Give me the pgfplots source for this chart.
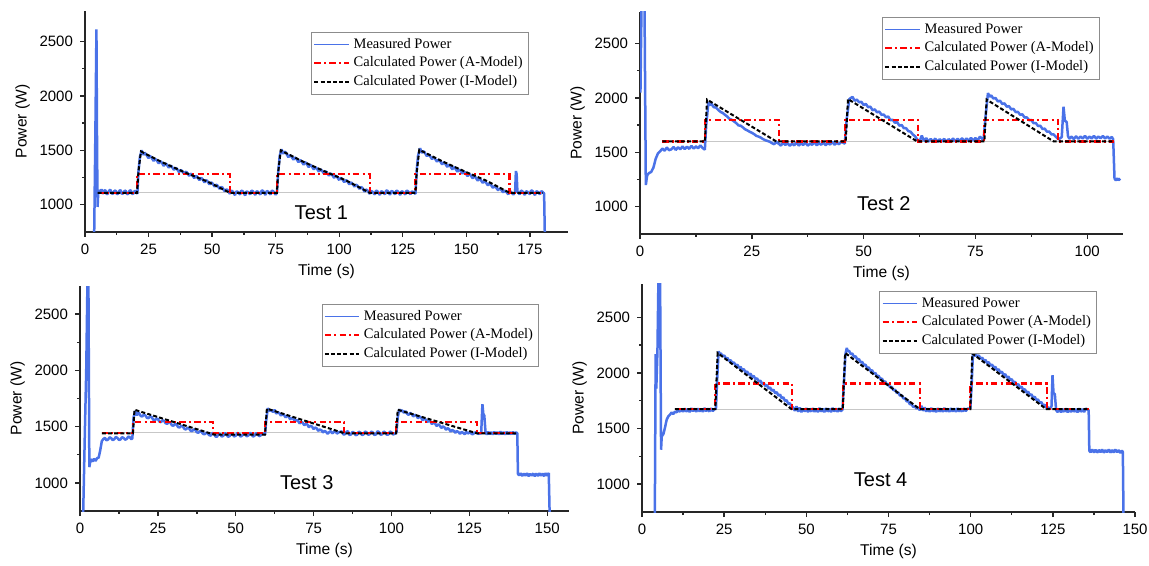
\documentclass[border=0pt]{standalone}
\usepackage{fontspec}
\setmainfont{Liberation Sans}
\newfontfamily\legfont{Liberation Serif}
\usepackage{pgfplots}
\pgfplotsset{compat=1.18}
\definecolor{measblue}{HTML}{4A72E8}
\definecolor{modred}{HTML}{FF0000}

\pgfplotsset{
  panel/.style={
    scale only axis,
    axis lines=left,
    axis line style={-, line width=0.8pt, black!85},
    tick style={line width=0.7pt, black!85},
    tick align=outside,
    major tick length=2.5pt,
    minor tick length=1.5pt,
    minor x tick num=1,
    minor y tick num=1,
    ymin=750,
    ytick={1000,1500,2000,2500},
    scaled ticks=false,
    /pgf/number format/1000 sep={},
    /pgf/number format/assume math mode=true,
    ticklabel style={font=\fontsize{7.5}{9}\selectfont},
    label style={font=\fontsize{7.8}{9}\selectfont},
    xlabel={Time (s)},
    ylabel={Power (W)},
    xlabel style={yshift=2pt},
    ylabel style={yshift=-2pt},
    clip=true,
    legend cell align=left,
    legend style={draw=black!45, line width=0.5pt, fill=white,
      font=\legfont\fontsize{7.25}{8.4}\selectfont,
      inner sep=0.8pt, row sep=-1.2pt, anchor=north east},
  },
  meas/.style={measblue, line width=1.25pt, line join=bevel,
    legend image post style={line width=0.5pt}},
  amod/.style={modred, line width=1.05pt, dash pattern=on 3.2pt off 1.6pt on 1pt off 1.6pt},
  imod/.style={black, line width=1.0pt, dash pattern=on 2pt off 1.1pt},
  base/.style={black!22, line width=0.4pt, forget plot},
}
\tikzset{testlbl/.style={font=\fontsize{10}{12}\selectfont}}

\begin{document}
\begin{tikzpicture}
\useasboundingbox (0,0) rectangle (574.5pt,-283pt);

% ---------------- Test 1 ----------------
\begin{axis}[panel, at={(42.5pt,-116pt)}, anchor=south west,
  width=241.5pt, height=110.5pt,
  xmin=0, xmax=190, ymax=2780, xtick={0,25,...,175},
  legend style={at={(0.919,0.905)}}]
\addplot[base] coordinates {(5,1110)(181,1110)};
\addplot[meas] coordinates {
(3.6,700)(4.1,1700)(4.5,2610)(4.75,1500)(4.95,980)(5.2,1110)(5.5,1135)(6,1115)(6.5,1142)(7,1100)(7.5,1128)(8,1135)(8.5,1098)(9,1102)(9.5,1130)(10,1138)(10.5,1105)(11,1100)(11.5,1125)(12,1132)(12.5,1098)(13,1102)(13.5,1128)(14,1135)(14.5,1100)(15,1104)(15.5,1126)(16,1130)(16.5,1098)(17,1100)(17.5,1128)(18,1134)(18.5,1100)(19,1102)(19.5,1126)(20,1124)(20.6,1100)
(21,1300)(21.6,1440)(22.3,1500)(23,1458)(23.5,1478)(24,1465)(25,1428)(25.5,1448)(26,1440)(27,1402)(27.5,1420)(28,1415)(29,1380)(29.5,1398)(30,1395)(31,1356)(31.5,1378)(32,1375)(33,1340)(33.5,1358)(34,1355)(35,1320)(35.5,1338)(36,1335)(37,1300)(37.5,1318)(38,1315)(39,1284)(39.5,1302)(40,1300)(41,1265)(41.5,1284)(42,1280)(43,1245)(43.5,1264)(44,1262)(45,1226)(45.5,1245)(46,1242)(47,1206)(47.5,1225)(48,1222)(49,1186)(49.5,1204)(50,1202)(51,1166)(51.5,1184)(52,1180)(53,1145)(53.5,1162)(54,1160)(55,1122)(55.5,1140)(56,1138)(57,1100)(57.5,1128)(58,1125)(59,1088)(59.5,1122)(60,1120)(61,1094)(61.5,1130)(62,1125)(63,1086)(63.5,1122)(64,1118)(65,1096)(65.5,1130)(66,1125)(67,1090)(67.5,1124)(68,1120)(69,1094)(69.5,1132)(70,1128)(71,1090)(71.5,1126)(72,1122)(73,1094)(73.5,1130)(74,1125)(75,1092)(75.5,1110)
(76,1300)(76.6,1450)(77.3,1510)(78,1468)(78.5,1488)(79,1480)(80,1436)(80.5,1456)(81,1450)(82,1415)(82.5,1434)(83,1428)(84,1390)(84.5,1410)(85,1405)(86,1368)(86.5,1390)(87,1385)(88,1345)(88.5,1366)(89,1362)(90,1325)(90.5,1345)(91,1340)(92,1305)(92.5,1325)(93,1320)(94,1287)(94.5,1306)(95,1302)(96,1267)(96.5,1286)(97,1282)(98,1247)(98.5,1266)(99,1262)(100,1227)(100.5,1246)(101,1242)(102,1207)(102.5,1226)(103,1222)(104,1187)(104.5,1204)(105,1200)(106,1167)(106.5,1184)(107,1180)(108,1145)(108.5,1162)(109,1158)(110,1120)(110.5,1140)(111,1135)(112,1100)(112.5,1126)(113,1122)(114,1094)(114.5,1130)(115,1125)(116,1090)(116.5,1124)(117,1120)(118,1096)(118.5,1132)(119,1128)(120,1092)(120.5,1126)(121,1122)(122,1096)(122.5,1130)(123,1125)(124,1090)(124.5,1124)(125,1120)(126,1094)(126.5,1130)(127,1125)(128,1096)(128.5,1122)(129,1118)(130,1100)
(130.5,1320)(131,1450)(131.8,1520)(132.5,1476)(133,1492)(133.5,1485)(134.5,1446)(135,1462)(135.5,1455)(136.5,1420)(137,1436)(137.5,1430)(138.5,1395)(139,1413)(139.5,1408)(140.5,1370)(141,1390)(141.5,1385)(142.5,1348)(143,1367)(143.5,1362)(144.5,1325)(145,1345)(145.5,1340)(146.5,1303)(147,1322)(147.5,1318)(148.5,1285)(149,1303)(149.5,1298)(150.5,1263)(151,1282)(151.5,1278)(152.5,1243)(153,1261)(153.5,1256)(154.5,1221)(155,1239)(155.5,1234)(156.5,1200)(157,1217)(157.5,1212)(158.5,1177)(159,1195)(159.5,1190)(160.5,1155)(161,1171)(161.5,1166)(162.5,1133)(163,1150)(163.5,1145)(164.5,1113)(165,1130)(165.5,1125)(166.5,1096)(167,1124)(167.5,1120)(168.5,1094)(169.2,1115)(169.5,1310)(169.8,1280)(170.1,1120)(171,1096)(171.5,1130)(172,1125)(173,1090)(173.5,1124)(174,1120)(175,1096)(175.5,1132)(176,1128)(177,1088)(177.5,1124)(178,1120)(179,1096)(179.5,1126)(180,1118)(180.6,1105)(180.9,700)};
\addlegendentry{Measured Power}
\addplot[amod] coordinates {(5,1110)(20.5,1110)(20.5,1280)(57,1280)(57,1110)(75.5,1110)(75.5,1280)(112,1280)(112,1110)(130,1110)(130,1280)(167,1280)(167,1110)(180,1110)};
\addlegendentry{Calculated Power (A-Model)}
\addplot[imod] coordinates {(5,1110)(20.5,1110)(21,1300)(22,1490)(30,1395)(39,1300)(48,1215)(57,1110)(75.5,1110)(76,1300)(77,1500)(85,1405)(94,1310)(103,1220)(112,1110)(130,1110)(130.5,1300)(131.5,1505)(140,1405)(149,1310)(158,1220)(167,1110)(180,1110)};
\addlegendentry{Calculated Power (I-Model)}
\node[testlbl] at (axis cs:93,924) {Test 1};
\end{axis}

% ---------------- Test 2 ----------------
\begin{axis}[panel, at={(320pt,-117pt)}, anchor=south west,
  width=241.5pt, height=111pt,
  xmin=0, xmax=108, ymax=2790, xtick={0,25,...,100},
  legend style={at={(0.952,0.977)}}]
\addplot[base] coordinates {(5,1600)(106,1600)};
\addplot[meas] coordinates {
(0.1,2050)(0.35,2900)(1.0,2900)(1.3,1200)(1.6,1290)(2,1310)(2.5,1320)(3,1360)(3.5,1440)(4,1490)(4.5,1510)(5,1535)(5.5,1515)(6,1545)(6.5,1520)(7,1528)(7.5,1550)(8,1522)(8.5,1548)(9,1528)(9.5,1555)(10,1530)(10.5,1552)(11,1532)(11.5,1560)(12,1535)(12.5,1555)(13,1538)(13.5,1565)(14,1540)(14.5,1525)
(14.8,1750)(15.3,1960)(15.7,1935)(16,1945)(16.5,1915)(17,1912)(17.5,1890)(18,1872)(18.5,1862)(19,1845)(19.5,1830)(20,1808)(20.5,1800)(21,1785)(21.5,1770)(22,1748)(22.5,1745)(23,1730)(23.5,1712)(24,1702)(24.5,1690)(25,1680)(25.5,1668)(26,1652)(26.5,1645)(27,1636)(27.5,1622)(28,1612)(28.5,1605)(29,1598)(29.5,1585)(30,1575)(30.5,1595)(31,1580)(31.5,1562)(32,1590)(32.5,1568)(33,1585)(33.5,1560)(34,1580)(34.5,1565)(35,1592)(35.5,1562)(36,1582)(36.5,1568)(37,1590)(37.5,1562)(38,1580)(38.5,1570)(39,1595)(39.5,1565)(40,1585)(40.5,1570)(41,1592)(41.5,1566)(42,1585)(42.5,1572)(43,1598)(43.5,1570)(44,1588)(44.5,1575)(45,1598)(45.8,1580)
(46.2,1800)(46.8,1990)(47.5,2010)(48,1975)(48.5,1985)(49,1960)(49.5,1965)(50,1935)(50.5,1945)(51,1915)(51.5,1920)(52,1888)(52.5,1895)(53,1868)(53.5,1875)(54,1845)(54.5,1848)(55,1822)(55.5,1830)(56,1795)(56.5,1800)(57,1772)(57.5,1778)(58,1745)(58.5,1752)(59,1722)(59.5,1722)(60,1695)(60.5,1690)(61,1665)(61.5,1648)(62,1618)(62.5,1598)(63,1655)(63.5,1605)(64,1632)(64.5,1598)(65,1625)(65.5,1598)(66,1628)(66.5,1596)(67,1622)(67.5,1600)(68,1625)(68.5,1596)(69,1622)(69.5,1602)(70,1628)(70.5,1600)(71,1625)(71.5,1604)(72,1630)(72.5,1604)(73,1628)(73.5,1606)(74,1634)(74.5,1608)(75,1632)(75.5,1610)(76,1645)(76.8,1612)
(77.2,1800)(77.8,2045)(78.2,2010)(78.5,2025)(79,1995)(79.5,2000)(80,1968)(80.5,1975)(81,1945)(81.5,1950)(82,1920)(82.5,1925)(83,1895)(83.5,1900)(84,1870)(84.5,1872)(85,1845)(85.5,1850)(86,1820)(86.5,1822)(87,1795)(87.5,1798)(88,1768)(88.5,1770)(89,1742)(89.5,1745)(90,1715)(90.5,1718)(91,1690)(91.5,1692)(92,1665)(92.5,1665)(93,1642)(93.6,1620)(94.3,1640)(94.7,1920)(95,1790)(95.4,1780)(95.7,1650)(96,1625)(96.5,1645)(97,1622)(97.5,1648)(98,1625)(98.5,1645)(99,1628)(99.5,1652)(100,1625)(100.5,1645)(101,1628)(101.5,1652)(102,1626)(102.5,1645)(103,1630)(103.5,1650)(104,1628)(104.5,1645)(105,1626)(105.5,1642)(105.8,1620)(106.1,1260)(106.4,1242)(106.7,1262)(107,1245)(107.4,1258)};
\addlegendentry{Measured Power}
\addplot[amod] coordinates {(5,1600)(14.5,1600)(14.5,1800)(31,1800)(31,1600)(45.8,1600)(45.8,1800)(62.1,1800)(62.1,1600)(77,1600)(77,1800)(93.5,1800)(93.5,1600)(106,1600)};
\addlegendentry{Calculated Power (A-Model)}
\addplot[imod] coordinates {(5,1600)(14.5,1600)(15,1985)(30.5,1600)(46,1600)(46.5,1990)(62,1600)(77,1600)(77.5,1985)(92.5,1600)(106,1600)};
\addlegendentry{Calculated Power (I-Model)}
\node[testlbl] at (axis cs:54.5,1028) {Test 2};
\end{axis}

% ---------------- Test 3 ----------------
\begin{axis}[panel, at={(40pt,-255.5pt)}, anchor=south west,
  width=244.5pt, height=112.5pt,
  xmin=0, xmax=157, ymax=2750, xtick={0,25,...,150},
  legend style={at={(0.939,0.92)}}]
\addplot[base] coordinates {(7,1445)(140,1445)};
\addplot[meas] coordinates {
(1.0,700)(1.6,1500)(2.0,2000)(2.4,2800)(2.7,2800)(3.0,1140)(3.4,1210)(4,1190)(4.5,1215)(5,1195)(5.5,1220)(6,1225)(6.5,1290)(7,1370)(7.5,1390)(8,1400)(8.5,1378)(9,1385)(9.5,1405)(10,1398)(10.5,1380)(11,1388)(11.5,1408)(12,1400)(12.5,1382)(13,1386)(13.5,1406)(14,1400)(14.5,1384)(15,1390)(15.5,1412)(16,1405)(16.5,1388)(16.8,1395)
(17.2,1580)(17.7,1640)(18.3,1600)(18.7,1625)(19,1618)(19.5,1595)(20,1590)(20.5,1608)(21,1600)(21.5,1578)(22,1575)(22.5,1592)(23,1585)(23.5,1562)(24,1555)(24.5,1572)(25,1568)(25.5,1545)(26,1540)(26.5,1556)(27,1550)(27.5,1530)(28,1525)(28.5,1540)(29,1535)(29.5,1512)(30,1508)(30.5,1524)(31,1518)(31.5,1496)(32,1492)(32.5,1508)(33,1502)(33.5,1480)(34,1475)(34.5,1490)(35,1485)(35.5,1464)(36,1460)(36.5,1475)(37,1470)(37.5,1450)(38,1445)(38.5,1460)(39,1455)(39.5,1436)(40,1432)(40.5,1446)(41,1440)(41.5,1424)(42,1420)(42.5,1444)(43,1438)(43.5,1412)(44,1410)(44.5,1440)(45,1432)(45.5,1412)(46,1418)(46.5,1442)(47,1435)(47.5,1410)(48,1415)(48.5,1440)(49,1432)(49.5,1412)(50,1420)(50.5,1444)(51,1438)(51.5,1412)(52,1418)(52.5,1442)(53,1435)(53.5,1414)(54,1420)(54.5,1444)(55,1438)(55.5,1412)(56,1418)(56.5,1442)(57,1436)(57.5,1415)(58,1422)(58.5,1442)(59,1435)(59.4,1430)
(59.8,1560)(60.3,1665)(60.7,1636)(61,1648)(61.5,1642)(62,1630)(62.5,1650)(63,1615)(63.5,1628)(64,1620)(64.5,1598)(65,1612)(65.5,1604)(66,1582)(66.5,1596)(67,1588)(67.5,1564)(68,1578)(68.5,1570)(69,1546)(69.5,1560)(70,1552)(70.5,1528)(71,1543)(71.5,1535)(72,1512)(72.5,1526)(73,1518)(73.5,1494)(74,1508)(74.5,1500)(75,1478)(75.5,1492)(76,1484)(76.5,1462)(77,1475)(77.5,1468)(78,1448)(78.5,1462)(79,1454)(79.5,1436)(80,1450)(80.5,1460)(81,1440)(81.5,1452)(82,1462)(82.5,1438)(83,1448)(84,1458)(84.5,1432)(85,1432)(85.5,1452)(86,1460)(86.5,1426)(87,1430)(87.5,1454)(88,1445)(88.5,1424)(89,1428)(89.5,1455)(90,1448)(90.5,1426)(91,1430)(91.5,1456)(92,1450)(92.5,1428)(93,1432)(93.5,1456)(94,1448)(94.5,1426)(95,1430)(95.5,1458)(96,1452)(96.5,1428)(97,1432)(97.5,1456)(98,1448)(98.5,1428)(99,1430)(99.5,1456)(100,1450)(100.5,1430)(101,1435)(101.6,1448)
(102,1580)(102.5,1655)(102.9,1632)(103.2,1645)(103.6,1640)(104,1622)(104.5,1638)(105,1615)(105.5,1604)(106,1622)(106.5,1612)(107,1590)(107.5,1605)(108,1598)(108.5,1574)(109,1590)(109.5,1580)(110,1556)(110.5,1572)(111,1562)(111.5,1540)(112,1555)(112.5,1545)(113,1522)(113.5,1538)(114,1528)(114.5,1505)(115,1520)(115.5,1510)(116,1488)(116.5,1502)(117,1494)(117.5,1472)(118,1486)(118.5,1478)(119,1456)(119.5,1470)(120,1462)(120.5,1446)(121,1460)(121.5,1452)(122,1436)(122.5,1452)(123,1445)(123.5,1432)(124,1455)(124.5,1438)(125,1450)(126,1432)(127,1450)(128,1436)(128.8,1440)(129.2,1700)(129.5,1610)(129.8,1600)(130.2,1450)(130.6,1430)(131,1455)(131.5,1432)(132,1452)(132.5,1430)(133,1455)(133.5,1434)(134,1452)(134.5,1430)(135,1456)(135.5,1432)(136,1452)(136.5,1430)(137,1455)(137.5,1434)(138,1450)(138.5,1432)(139,1455)(139.5,1434)(140,1450)(140.4,1440)(140.6,1080)(141,1066)(141.5,1085)(142,1062)(142.5,1082)(143,1064)(143.5,1086)(144,1060)(144.5,1080)(145,1064)(145.5,1084)(146,1060)(146.5,1082)(147,1062)(147.5,1085)(148,1064)(148.5,1082)(149,1060)(149.5,1086)(150,1064)(150.5,1088)(150.8,700)};
\addlegendentry{Measured Power}
\addplot[amod] coordinates {(7,1440)(17,1440)(17,1540)(42.8,1540)(42.8,1440)(59.4,1440)(59.4,1540)(84.9,1540)(84.9,1440)(101.5,1440)(101.5,1540)(127.4,1540)(127.4,1440)(140,1440)};
\addlegendentry{Calculated Power (A-Model)}
\addplot[imod] coordinates {(7,1440)(17,1440)(17.5,1650)(43,1430)(59.4,1430)(60,1660)(85,1440)(101.5,1440)(102,1650)(127.5,1440)(140,1440)};
\addlegendentry{Calculated Power (I-Model)}
\node[testlbl] at (axis cs:72.8,1005) {Test 3};
\end{axis}

% ---------------- Test 4 ----------------
\begin{axis}[panel, at={(321pt,-256pt)}, anchor=south west,
  width=246.5pt, height=114pt,
  xmin=0, xmax=150, ymax=2800, xtick={0,25,...,150},
  legend style={at={(0.923,0.969)}}]
\addplot[base] coordinates {(10,1675)(136,1675)};
\addplot[meas] coordinates {
(3.9,700)(4.15,2170)(4.35,1860)(4.7,2200)(5.0,2850)(5.5,2850)(5.8,1310)(6.0,1430)(6.5,1450)(7,1510)(7.5,1580)(8,1610)(8.5,1625)(9,1645)(9.5,1630)(10,1652)(10.5,1645)(11,1675)(11.5,1650)(12,1680)(12.5,1650)(13,1682)(13.5,1652)(14,1678)(14.5,1648)(15,1684)(15.5,1655)(16,1680)(16.5,1650)(17,1682)(17.5,1654)(18,1678)(18.5,1650)(19,1685)(19.5,1656)(20,1680)(20.5,1652)(21,1684)(21.5,1656)(22,1675)(22.5,1680)
(22.8,1900)(23.3,2195)(23.7,2170)(24,2178)(24.5,2150)(25,2158)(25.5,2130)(26,2135)(26.5,2108)(27,2115)(27.5,2088)(28,2095)(28.5,2066)(29,2075)(29.5,2046)(30,2055)(30.5,2026)(31,2035)(31.5,2004)(32,2014)(32.5,1984)(33,1994)(33.5,1964)(34,1974)(34.5,1944)(35,1952)(35.5,1922)(36,1932)(36.5,1902)(37,1912)(37.5,1882)(38,1892)(38.5,1860)(39,1870)(39.5,1840)(40,1850)(40.5,1818)(41,1828)(41.5,1796)(42,1806)(42.5,1772)(43,1782)(43.5,1748)(44,1756)(44.5,1722)(45,1728)(45.5,1700)(46,1690)(46.5,1660)(47,1700)(47.5,1652)(48,1690)(48.5,1648)(49,1678)(49.5,1654)(50,1684)(50.5,1648)(51,1680)(51.5,1652)(52,1685)(52.5,1650)(53,1678)(53.5,1648)(54,1686)(54.5,1652)(55,1680)(55.5,1648)(56,1684)(56.5,1652)(57,1680)(57.5,1648)(58,1686)(58.5,1654)(59,1680)(59.5,1650)(60,1684)(60.5,1655)(61,1670)
(61.4,1900)(61.9,2170)(62.3,2225)(62.6,2195)(63,2200)(63.5,2170)(64,2175)(64.5,2145)(65,2150)(65.5,2120)(66,2125)(66.5,2095)(67,2100)(67.5,2070)(68,2075)(68.5,2045)(69,2050)(69.5,2018)(70,2025)(70.5,1995)(71,2000)(71.5,1970)(72,1975)(72.5,1945)(73,1950)(73.5,1918)(74,1925)(74.5,1895)(75,1900)(75.5,1870)(76,1875)(76.5,1845)(77,1850)(77.5,1820)(78,1825)(78.5,1795)(79,1800)(79.5,1770)(80,1775)(80.5,1745)(81,1748)(81.5,1718)(82,1722)(82.5,1695)(83,1700)(83.5,1680)(84,1690)(84.5,1665)(85,1705)(85.5,1660)(86,1690)(86.5,1652)(87,1682)(87.5,1650)(88,1686)(88.5,1652)(89,1680)(89.5,1648)(90,1684)(90.5,1652)(91,1680)(91.5,1650)(92,1686)(92.5,1652)(93,1680)(93.5,1650)(94,1684)(94.5,1654)(95,1680)(95.5,1650)(96,1685)(96.5,1652)(97,1680)(97.5,1652)(98,1684)(98.5,1656)(99,1680)(99.9,1678)
(100.3,1900)(100.7,2175)(101.1,2150)(101.5,2168)(102,2148)(102.5,2158)(103,2128)(103.5,2138)(104,2108)(104.5,2118)(105,2088)(105.5,2098)(106,2066)(106.5,2076)(107,2046)(107.5,2056)(108,2024)(108.5,2034)(109,2002)(109.5,2012)(110,1980)(110.5,1990)(111,1958)(111.5,1968)(112,1935)(112.5,1945)(113,1912)(113.5,1922)(114,1890)(114.5,1900)(115,1867)(115.5,1878)(116,1845)(116.5,1855)(117,1822)(117.5,1832)(118,1800)(118.5,1808)(119,1778)(119.5,1786)(120,1755)(120.5,1762)(121,1732)(121.5,1738)(122,1708)(122.5,1715)(123,1686)(123.5,1692)(124,1675)(124.6,1700)(124.9,1980)(125.2,1820)(125.6,1810)(126,1665)(126.5,1648)(127,1680)(127.5,1645)(128,1676)(128.5,1650)(129,1682)(129.5,1646)(130,1678)(130.5,1648)(131,1680)(131.5,1650)(132,1676)(132.5,1645)(133,1682)(133.5,1650)(134,1676)(134.5,1648)(135,1680)(135.9,1665)(136.1,1300)(136.5,1288)(137,1312)(137.5,1286)(138,1310)(138.5,1284)(139,1308)(139.5,1288)(140,1312)(140.5,1284)(141,1306)(141.5,1288)(142,1312)(142.5,1284)(143,1308)(143.5,1286)(144,1312)(144.5,1288)(145,1306)(145.5,1282)(146,1302)(146.3,1290)(146.5,700)};
\addlegendentry{Measured Power}
\addplot[amod] coordinates {(10,1675)(22.3,1675)(22.3,1905)(45.6,1905)(45.6,1675)(61.1,1675)(61.1,1905)(84.5,1905)(84.5,1675)(99.9,1675)(99.9,1905)(123.1,1905)(123.1,1675)(136,1675)};
\addlegendentry{Calculated Power (A-Model)}
\addplot[imod] coordinates {(10,1675)(22.3,1675)(23,2180)(45.5,1675)(61.1,1675)(61.8,2180)(84.5,1675)(99.9,1675)(100.5,2175)(123,1675)(136,1675)};
\addlegendentry{Calculated Power (I-Model)}
\node[testlbl] at (axis cs:72.6,1036) {Test 4};
\end{axis}
\end{tikzpicture}
\end{document}
